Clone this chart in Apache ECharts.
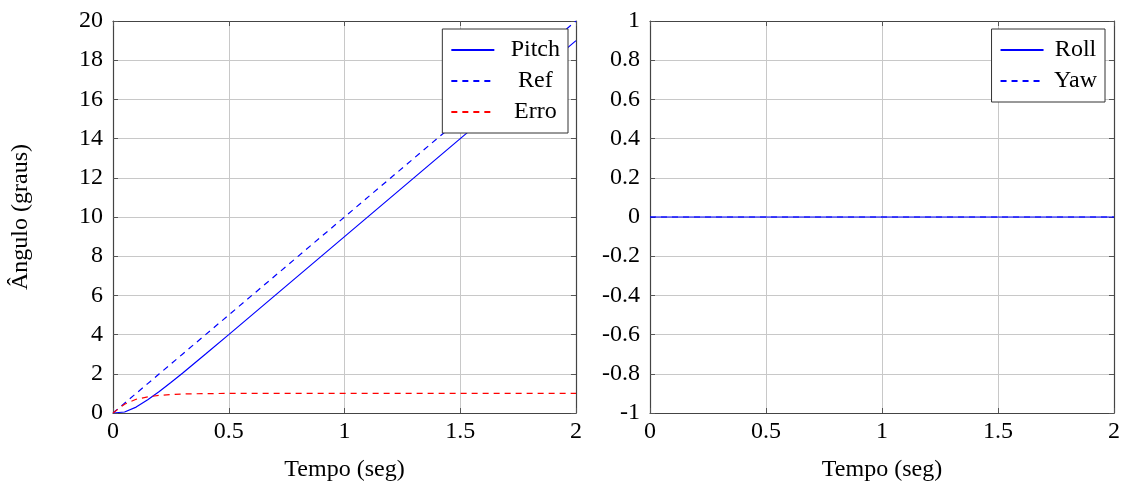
<!DOCTYPE html>
<html>
<head>
<meta charset="utf-8">
<script src="https://cdn.jsdelivr.net/npm/echarts@6/dist/echarts.min.js"></script>
<style>
  html, body { margin: 0; padding: 0; background: #fff; }
  #chart { width: 1126px; height: 489px; }
</style>
</head>
<body>
<div id="chart"></div>
<script>
// Time samples (s)
const tempo = [0, 0.05, 0.1, 0.15, 0.2, 0.25, 0.3, 0.4, 0.5, 1.0, 1.5, 2.0];
// Pitch response, reference ramp and tracking error (degrees)
const pitch = [0, 0.05, 0.3, 0.68, 1.1, 1.56, 2.03, 3.01, 4.0, 9.0, 14.0, 19.0];
const ref   = [0, 0.5, 1.0, 1.5, 2.0, 2.5, 3.0, 4.0, 5.0, 10.0, 15.0, 20.0];
const erro  = [0, 0.45, 0.7, 0.82, 0.9, 0.94, 0.97, 0.99, 1.0, 1.0, 1.0, 1.0];
// Roll and yaw stay at zero
const tempoRY = [0, 0.5, 1.0, 1.5, 2.0];
const roll = [0, 0, 0, 0, 0];
const yaw  = [0, 0, 0, 0, 0];

const FONT = 'Liberation Serif';
const TXT = { fontFamily: FONT, fontSize: 24, color: '#000' };
const BLUE = '#0000ff', RED = '#ff0000';

function pairs(xs, ys) { return xs.map((x, i) => [x, ys[i]]); }
function fmt(v) { return String(Math.round(v * 10) / 10); }

const frame = { show: true, onZero: false, lineStyle: { color: '#444', width: 1.2 } };
const tickIn = { show: true, inside: true, length: 5, lineStyle: { color: '#555', width: 1 } };
const grid = { show: true, lineStyle: { color: '#c8c8c8', width: 1 } };

function xAxes(gi) {
  return [
    { type: 'value', gridIndex: gi, min: 0, max: 2, interval: 0.5, position: 'bottom',
      axisLine: frame, axisTick: tickIn, splitLine: grid,
      axisLabel: Object.assign({ margin: 7, formatter: fmt }, TXT),
      name: 'Tempo (seg)', nameLocation: 'middle', nameGap: 45, nameTextStyle: TXT },
    { type: 'value', gridIndex: gi, min: 0, max: 2, interval: 0.5, position: 'top',
      axisLine: frame, axisTick: tickIn, splitLine: { show: false }, axisLabel: { show: false } }
  ];
}
function yAxes(gi, min, max, step, name) {
  return [
    { type: 'value', gridIndex: gi, min: min, max: max, interval: step, position: 'left',
      axisLine: frame, axisTick: tickIn, splitLine: grid,
      axisLabel: Object.assign({ margin: 10, formatter: fmt }, TXT),
      name: name || '', nameLocation: 'middle', nameGap: 80, nameRotate: 90, nameTextStyle: TXT },
    { type: 'value', gridIndex: gi, min: min, max: max, interval: step, position: 'right',
      axisLine: frame, axisTick: tickIn, splitLine: { show: false }, axisLabel: { show: false } }
  ];
}

function line(name, xi, yi, data, color, dashed) {
  return {
    name: name, type: 'line', xAxisIndex: xi, yAxisIndex: yi, data: data,
    showSymbol: false, symbol: 'none', clip: true, animation: false,
    lineStyle: { color: color, width: 1.2, type: dashed ? [6, 5] : 'solid' },
    itemStyle: { color: color }
  };
}

function richText(w) {
  return Object.assign({ rich: { a: Object.assign({ width: w, align: 'center' }, TXT) } }, TXT);
}

const legendBase = {
  orient: 'vertical', backgroundColor: '#fff', borderColor: '#333', borderWidth: 1,
  padding: [9, 8, 9, 8], itemGap: 7, itemWidth: 43, itemHeight: 24,
  formatter: '{a|{name}}',
  itemStyle: { opacity: 0 },
  selectedMode: false
};

const chart = echarts.init(document.getElementById('chart'), null, { renderer: 'canvas' });
chart.setOption({
  animation: false,
  backgroundColor: '#fff',
  grid: [
    { left: 113, top: 21, width: 463, height: 392 },
    { left: 650, top: 21, width: 464, height: 392 }
  ],
  xAxis: xAxes(0).concat(xAxes(1)),
  yAxis: yAxes(0, 0, 20, 2, 'Ângulo (graus)').concat(yAxes(1, -1, 1, 0.2)),
  legend: [
    Object.assign({}, legendBase, { data: ['Pitch', 'Ref', 'Erro'], right: 558, top: 29,
      textStyle: richText(72) }),
    Object.assign({}, legendBase, { data: ['Roll', 'Yaw'], right: 21, top: 29,
      textStyle: richText(54) })
  ],
  series: [
    line('Pitch', 0, 0, pairs(tempo, pitch), BLUE, false),
    line('Ref', 0, 0, pairs(tempo, ref), BLUE, true),
    line('Erro', 0, 0, pairs(tempo, erro), RED, true),
    line('Roll', 2, 2, pairs(tempoRY, roll), BLUE, false),
    line('Yaw', 2, 2, pairs(tempoRY, yaw), BLUE, true)
  ]
});
</script>
</body>
</html>
